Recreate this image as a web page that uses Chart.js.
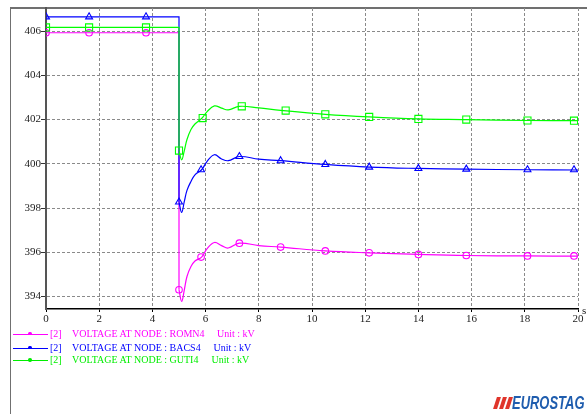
<!DOCTYPE html>
<html>
<head>
<meta charset="utf-8">
<script src="https://cdn.jsdelivr.net/npm/chart.js@4/dist/chart.umd.min.js"></script>
<style>
  html, body { margin: 0; padding: 0; background: #fff; }
  #wrap { position: relative; width: 587px; height: 414px; overflow: hidden;
          font-family: "Liberation Serif", "DejaVu Serif", serif; }
  #frame { position: absolute; left: 10px; top: 7px; width: 577px; height: 407px;
           border-top: 2px solid #707070; border-left: 1.5px solid #707070; box-sizing: border-box; }
  #chart { position: absolute; left: 0; top: 0; }
  .row { position: absolute; left: 0; width: 400px; height: 12px; font-size: 10px; line-height: 12px; white-space: pre; }
  .row .key { position: absolute; left: 13px; top: 6px; width: 35px; height: 0; border-top: 1.2px solid currentColor; }
  .row .key i { position: absolute; left: 15px; top: -2.6px; width: 3.5px; height: 3.5px; background: currentColor; border-radius: 50%; }
  .row span { position: absolute; top: 0; }
  #unit { position: absolute; left: 582px; top: 304px; font-size: 11px; color: #222; }
  .bar { position: absolute; top: 397px; width: 4px; height: 12px; background: #e0352b; transform: skewX(-18deg); }
  #logo { position: absolute; left: 512px; top: 393px; font-family: "Liberation Sans", Arial, sans-serif;
          font-weight: bold; font-style: italic; font-size: 18px; color: #1f5dae;
          transform: scaleX(0.72); transform-origin: left top; }
</style>
</head>
<body>
<div id="wrap">
  <div id="frame"></div>
  <canvas id="chart" width="587" height="414"></canvas>
  <div class="row" style="top:327.5px;color:#ff00ff"><div class="key"><i></i></div><span style="left:50px">[2]</span><span style="left:72px">VOLTAGE AT NODE : ROMN4</span><span style="left:217px">Unit : kV</span></div>
  <div class="row" style="top:341.5px;color:#0000ff"><div class="key"><i></i></div><span style="left:50px">[2]</span><span style="left:72px">VOLTAGE AT NODE : BACS4</span><span style="left:213.5px">Unit : kV</span></div>
  <div class="row" style="top:354px;color:#00ee00"><div class="key"><i></i></div><span style="left:50px">[2]</span><span style="left:72px">VOLTAGE AT NODE : GUTI4</span><span style="left:211.5px">Unit : kV</span></div>
  <div id="unit">s</div>
  <div class="bar" style="left:495px"></div>
  <div class="bar" style="left:501px"></div>
  <div class="bar" style="left:507px"></div>
  <div id="logo">EUROSTAG</div>
</div>
<script>
// Time axis (s) and voltage axis (kV) tick labels
const xTicks = [0, 2, 4, 6, 8, 10, 12, 14, 16, 18, 20];
const yTicks = [394, 396, 398, 400, 402, 404, 406];

// Pre-disturbance plateau and the step at t = 5 s
const stepT = [0, 5.0, 5.0];
const romnStep = [405.93, 405.93, 394.3];
const bacsStep = [406.65, 406.65, 398.27];
const gutiStep = [406.17, 406.17, 400.6];

// Post-disturbance recovery
const postT    = [5.0, 5.1, 5.2, 5.3, 5.45, 5.6, 5.85, 6.05, 6.33, 6.6, 6.85, 7.27, 8.0, 8.82, 10.5, 12.15, 14.0, 15.8, 18.1, 20];
const romnPost = [394.3, 393.77, 394.3, 394.9, 395.35, 395.6, 395.78, 396.15, 396.44, 396.3, 396.19, 396.41, 396.3, 396.23, 396.06, 395.97, 395.9, 395.85, 395.83, 395.82];
const bacsPost = [398.27, 397.8, 398.3, 398.8, 399.2, 399.5, 399.73, 400.1, 400.41, 400.22, 400.14, 400.33, 400.21, 400.14, 399.97, 399.85, 399.79, 399.76, 399.73, 399.72];
const gutiPost = [400.6, 400.18, 400.6, 401.1, 401.55, 401.8, 402.05, 402.35, 402.62, 402.52, 402.44, 402.6, 402.53, 402.42, 402.24, 402.12, 402.03, 402.0, 401.96, 401.95];

// Marker positions of each curve
const markT  = [0, 1.62, 3.76, 5.0, 5.83, 7.27, 8.82, 10.5, 12.15, 14.0, 15.8, 18.1, 19.85];
const markTG = [0, 1.62, 3.76, 5.0, 5.89, 7.36, 9.01, 10.5, 12.15, 14.0, 15.8, 18.1, 19.85];
const romnMarks = [405.93, 405.93, 405.93, 394.3, 395.78, 396.41, 396.23, 396.06, 395.97, 395.9, 395.85, 395.83, 395.83];
const bacsMarks = [406.65, 406.65, 406.65, 398.27, 399.73, 400.33, 400.14, 399.97, 399.85, 399.79, 399.76, 399.73, 399.73];
const gutiMarks = [406.17, 406.17, 406.17, 400.6, 402.07, 402.6, 402.41, 402.24, 402.12, 402.03, 402.0, 401.96, 401.95];

const MAG = '#ff00ff', BLU = '#0000ff', GRN = '#00ff00';
const pts = (xs, ys) => xs.map((x, i) => ({ x: x, y: ys[i] }));

function lineSet(data, color, tension) {
  return { data: data, borderColor: color, borderWidth: 1.2, pointRadius: 0, tension: tension, fill: false };
}
function markSet(data, color, style, r) {
  return { data: data, showLine: false, borderColor: color, backgroundColor: 'rgba(0,0,0,0)',
           pointStyle: style, pointRadius: r, pointBorderWidth: 1.1, pointHoverRadius: r };
}

new Chart(document.getElementById('chart'), {
  type: 'line',
  data: {
    datasets: [
      lineSet(pts(stepT, gutiStep), GRN, 0),
      lineSet(pts(postT, gutiPost), GRN, 0.4),
      markSet(pts(markTG, gutiMarks), GRN, 'rect', 5),
      lineSet(pts(stepT, bacsStep), BLU, 0),
      lineSet(pts(postT, bacsPost), BLU, 0.4),
      markSet(pts(markT, bacsMarks), BLU, 'triangle', 4),
      lineSet(pts(stepT, romnStep), MAG, 0),
      lineSet(pts(postT, romnPost), MAG, 0.4),
      markSet(pts(markT, romnMarks), MAG, 'circle', 3.3)
    ]
  },
  options: {
    responsive: false,
    animation: false,
    events: [],
    layout: { padding: { top: 8, right: 9, left: 0, bottom: 0 } },
    plugins: { legend: { display: false }, tooltip: { enabled: false } },
    scales: {
      x: {
        type: 'linear', min: 0, max: 20,
        afterFit: s => { s.height = 105; },
        afterBuildTicks: s => { s.ticks = xTicks.map(v => ({ value: v })); },
        grid: { color: '#8a8a8a', lineWidth: 1, tickLength: 3, tickColor: '#000', tickBorderDash: [] },
        border: { display: true, color: '#000', width: 1.5, dash: [3, 2] },
        ticks: { color: '#222', padding: 1, maxRotation: 0, font: { family: 'Liberation Serif', size: 11 } }
      },
      y: {
        type: 'linear', min: 393.43, max: 407.05,
        afterFit: s => { s.width = 46; },
        afterBuildTicks: s => { s.ticks = yTicks.map(v => ({ value: v })); },
        grid: { color: '#8a8a8a', lineWidth: 1, tickLength: 5, tickColor: '#333', tickBorderDash: [] },
        border: { display: true, color: '#555', width: 2, dash: [3, 2] },
        ticks: { color: '#222', padding: 0, font: { family: 'Liberation Serif', size: 11 } }
      }
    }
  }
});
</script>
</body>
</html>
